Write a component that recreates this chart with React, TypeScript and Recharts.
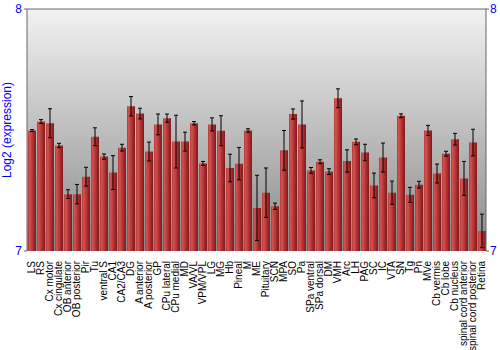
import React from "react";
import {
  ComposedChart,
  Bar,
  ErrorBar,
  XAxis,
  YAxis,
  CartesianGrid,
  ReferenceLine,
} from "recharts";

const regions = [
  "LS", "RS", "Cx motor", "Cx cingulate", "OB anterior", "OB posterior", "Pir", "Tu",
  "ventral S", "CA1", "CA2/CA3", "DG", "A anterior", "A posterior", "GP", "CPu lateral",
  "CPu medial", "MD", "VA/VL", "VPM/VPL", "LG", "MG", "Hb", "Pineal", "M", "ME",
  "Pituitary", "SCN", "MPA", "SO", "Pa", "SPa ventral", "SPa dorsal", "DM", "VMH", "Arc",
  "LH", "PAG", "SC", "IC", "VTA", "SN", "Tg", "Pn", "MVe", "Cb vermis", "Cb lobe",
  "Cb nucleus", "spinal cord anterior", "spinal cord posterior", "Retina",
];

const expression = [
  7.498, 7.535, 7.528, 7.436, 7.235, 7.235, 7.307, 7.472,
  7.390, 7.324, 7.427, 7.598, 7.568, 7.411, 7.523, 7.549,
  7.452, 7.452, 7.528, 7.362, 7.523, 7.497, 7.343, 7.361, 7.498, 7.178,
  7.241, 7.185, 7.416, 7.566, 7.523, 7.333, 7.369, 7.328, 7.631, 7.372,
  7.451, 7.407, 7.271, 7.386, 7.241, 7.559, 7.232, 7.274, 7.498, 7.320, 7.402,
  7.462, 7.300, 7.448, 7.083,
];

const stdErr = [
  0.004, 0.008, 0.060, 0.009, 0.018, 0.040, 0.039, 0.037,
  0.011, 0.070, 0.014, 0.040, 0.022, 0.039, 0.043, 0.017,
  0.109, 0.039, 0.007, 0.008, 0.027, 0.062, 0.057, 0.067, 0.007, 0.135,
  0.102, 0.013, 0.082, 0.021, 0.097, 0.012, 0.008, 0.012, 0.039, 0.046,
  0.012, 0.034, 0.051, 0.060, 0.048, 0.008, 0.031, 0.014, 0.021, 0.039, 0.010,
  0.024, 0.070, 0.055, 0.069,
];

const yTicks = [7, 8];

const data = regions.map((name, i) => ({
  name,
  value: expression[i],
  err: stdErr[i],
}));

const FONT = '"Liberation Sans", Arial, sans-serif';

const RegionTick = (props: any) => {
  const { x, y, payload } = props;
  return (
    <text
      x={0}
      y={0}
      transform={`translate(${x},${y + 2}) rotate(-90)`}
      textAnchor="end"
      dominantBaseline="central"
      fontSize={10}
      fontFamily={FONT}
      fill="#000"
    >
      {payload.value}
    </text>
  );
};

export default function App() {
  return (
    <div style={{ position: "absolute", left: 0, top: 0, background: "#fff" }}>
      <ComposedChart
        width={500}
        height={350}
        data={data}
        margin={{ top: 9, right: 0, left: 0, bottom: 0 }}
        barSize={8}
      >
        <defs>
          <linearGradient id="bgGrad" x1="0" y1="0" x2="0" y2="1">
            <stop offset="0%" stopColor="#f2f2f2" />
            <stop offset="100%" stopColor="#8a8a8a" />
          </linearGradient>
          <linearGradient id="barGrad" x1="0" y1="0" x2="1" y2="0">
            <stop offset="0%" stopColor="#b03838" />
            <stop offset="20%" stopColor="#d25252" />
            <stop offset="55%" stopColor="#b83434" />
            <stop offset="100%" stopColor="#7c1a1a" />
          </linearGradient>
        </defs>
        <CartesianGrid fill="url(#bgGrad)" horizontal={false} vertical={false} />
        <XAxis
          dataKey="name"
          interval={0}
          height={99}
          tickLine={false}
          axisLine={false}
          tick={<RegionTick />}
        />
        <YAxis
          yAxisId="left"
          domain={[7, 8]}
          ticks={yTicks}
          allowDataOverflow
          width={27}
          stroke="#666"
          tickSize={3}
          tickMargin={2}
          tick={{ fill: "#0000ff", fontSize: 12, fontFamily: FONT }}
          label={{
            value: "Log2 (expression)",
            angle: -90,
            position: "insideLeft",
            offset: 7,
            fill: "#0000ff",
            fontSize: 12,
            fontFamily: FONT,
            style: { textAnchor: "middle" },
          }}
        />
        <YAxis
          yAxisId="right"
          orientation="right"
          domain={[7, 8]}
          ticks={yTicks}
          allowDataOverflow
          width={14}
          stroke="#666"
          tickSize={3}
          tickMargin={1}
          tick={{ fill: "#0000ff", fontSize: 12, fontFamily: FONT }}
        />
        <ReferenceLine yAxisId="left" y={8} stroke="#666" />
        <Bar yAxisId="left" dataKey="value" fill="url(#barGrad)" isAnimationActive={false}>
          <ErrorBar dataKey="err" width={2} stroke="#000" strokeWidth={1} isAnimationActive={false} />
        </Bar>
      </ComposedChart>
    </div>
  );
}
